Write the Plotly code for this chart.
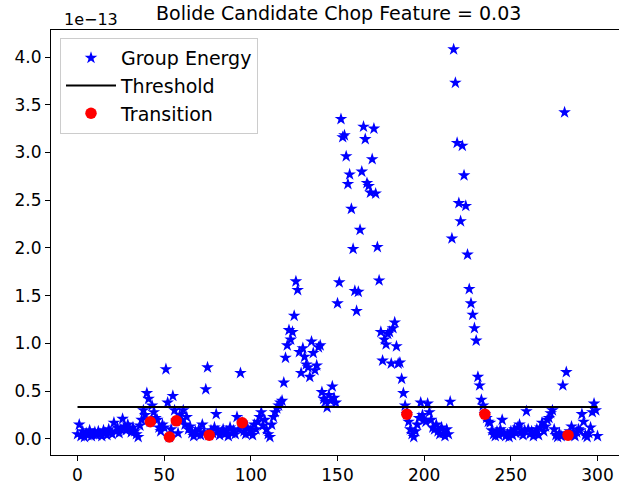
import plotly.graph_objects as go

# Group energy (units of 1e-13), sample index 0..300
energy_0_41 = [0.05, 0.15, 0.03, 0.08, 0.02, 0.06, 0.04, 0.09, 0.03, 0.05,
               0.07, 0.04, 0.08, 0.05, 0.03, 0.09, 0.06, 0.04, 0.10, 0.07,
               0.05, 0.17, 0.08, 0.12, 0.06, 0.10, 0.21, 0.13, 0.09, 0.15,
               0.11, 0.07, 0.12, 0.08, 0.05, 0.02, 0.14, 0.20, 0.30, 0.25,
               0.48, 0.42]
energy_42_65 = [0.18, 0.35, 0.28, 0.22, 0.20, 0.12, 0.08, 0.15, 0.12, 0.73,
                0.38, 0.02, 0.10, 0.45, 0.30, 0.19, 0.06, 0.25, 0.20, 0.30,
                0.15, 0.23, 0.10, 0.13]
energy_66_109 = [0.06, 0.03, 0.08, 0.05, 0.10, 0.04, 0.15, 0.07, 0.52, 0.75,
                 0.04, 0.09, 0.06, 0.12, 0.26, 0.08, 0.04, 0.07, 0.10, 0.05,
                 0.08, 0.03, 0.12, 0.06, 0.09, 0.05, 0.23, 0.10, 0.69, 0.17,
                 0.08, 0.05, 0.12, 0.06, 0.09, 0.04, 0.15, 0.10, 0.18, 0.23,
                 0.28, 0.14, 0.20, 0.10]
energy_110_149 = [0.05, 0.02, 0.15, 0.23, 0.28, 0.32, 0.35, 0.38, 0.40, 0.59,
                  0.85, 0.98, 1.14, 1.04, 1.12, 1.29, 1.65, 1.56, 0.91, 0.69,
                  0.95, 0.86, 0.78, 0.75, 0.65, 1.02, 0.90, 0.72, 0.77, 0.96,
                  0.98, 0.49, 0.42, 0.39, 0.33, 0.46, 0.40, 0.55, 0.43, 0.38]
energy_150_189 = [1.42, 1.64, 3.35, 3.16, 3.18, 2.96, 2.67, 2.77, 2.41, 1.99,
                  1.55, 1.34, 1.54, 2.19, 2.80, 3.27, 3.14, 2.68, 2.65, 2.58,
                  2.93, 3.25, 2.57, 2.01, 1.66, 1.12, 0.82, 1.04, 0.99, 1.10,
                  1.12, 0.79, 1.16, 1.22, 0.97, 0.79, 0.80, 0.63, 0.48, 0.35]
energy_190_215 = [0.26, 0.18, 0.10, 0.05, 0.02, 0.08, 0.15, 0.22, 0.38, 0.25,
                  0.20, 0.18, 0.37, 0.28, 0.20, 0.12, 0.10, 0.15, 0.08, 0.05,
                  0.12, 0.06, 0.03, 0.10, 0.05, 0.39]
energy_216_235 = [2.10, 4.08, 3.73, 3.10, 2.47, 2.28, 3.07, 2.76, 2.44, 1.93,
                  1.57, 1.42, 1.30, 1.16, 1.03, 0.65, 0.56, 0.41, 0.35, 0.26]
energy_236_300 = [0.22, 0.18, 0.17, 0.09, 0.05, 0.03, 0.08, 0.04, 0.10, 0.20,
                  0.06, 0.03, 0.05, 0.02, 0.08, 0.04, 0.10, 0.06, 0.12, 0.15,
                  0.07, 0.04, 0.09, 0.29, 0.10, 0.05, 0.08, 0.03, 0.06, 0.10,
                  0.04, 0.12, 0.17, 0.08, 0.13, 0.20, 0.22, 0.27, 0.30, 0.10,
                  0.04, 0.02, 0.06, 0.03, 0.56, 3.42, 0.70, 0.04, 0.08, 0.13,
                  0.05, 0.03, 0.07, 0.10, 0.09, 0.26, 0.18, 0.04, 0.02, 0.06,
                  0.12, 0.28, 0.37, 0.30, 0.03]

energy = (energy_0_41 + energy_42_65 + energy_66_109 + energy_110_149 +
          energy_150_189 + energy_190_215 + energy_216_235 + energy_236_300)
sample_index = list(range(len(energy)))

threshold_value = 0.335
threshold_x = [0, 300]

transition_x = [42, 53, 57, 76, 95, 190, 235, 283]
transition_y = [0.18, 0.02, 0.19, 0.04, 0.17, 0.26, 0.26, 0.04]

x_ticks = [0, 50, 100, 150, 200, 250, 300]
y_ticks = [0.0, 0.5, 1.0, 1.5, 2.0, 2.5, 3.0, 3.5, 4.0]

FONT = "DejaVu Sans"
W, H = 619, 488
L, R, T, B = 51, 619, 30, 455

fig = go.Figure()
fig.add_trace(go.Scatter(
    x=sample_index, y=energy, mode="markers", name="Group Energy",
    marker=dict(symbol="star", size=9.5, color="#0000ff", line=dict(width=0)),
))
fig.add_trace(go.Scatter(
    x=threshold_x, y=[threshold_value, threshold_value], mode="lines",
    name="Threshold", line=dict(color="black", width=2),
))
fig.add_trace(go.Scatter(
    x=transition_x, y=transition_y, mode="markers", name="Transition",
    marker=dict(symbol="circle", size=11.5, color="#ff0000", line=dict(width=0)),
))

def px_x(p):
    return (p - L) / (R - L)

def px_y(p):
    return (B - p) / (B - T)

fig.update_layout(
    width=W, height=H,
    margin=dict(l=L, r=W - R, t=T, b=H - B, pad=0),
    paper_bgcolor="white", plot_bgcolor="white",
    font=dict(family=FONT, size=17, color="black"),
    showlegend=True,
    legend=dict(
        x=px_x(60), y=px_y(38), xanchor="left", yanchor="top",
        bgcolor="rgba(255,255,255,0.8)", bordercolor="#cccccc", borderwidth=1,
        font=dict(family=FONT, size=19, color="black"),
        itemwidth=50, tracegroupgap=0,
    ),
    xaxis=dict(
        range=[-15.3, 312.4], tickmode="array", tickvals=x_ticks,
        ticktext=[str(v) for v in x_ticks],
        showgrid=False, zeroline=False, showline=True, linecolor="black",
        linewidth=1, mirror=True, ticks="outside", ticklen=5, tickcolor="black",
        tickfont=dict(family=FONT, size=17, color="black"),
    ),
    yaxis=dict(
        range=[-0.168, 4.283], tickmode="array", tickvals=y_ticks,
        ticktext=[f"{v:.1f}" for v in y_ticks],
        showgrid=False, zeroline=False, showline=True, linecolor="black",
        linewidth=1, mirror=False, ticks="outside", ticklen=5, tickcolor="black",
        tickfont=dict(family=FONT, size=17, color="black"),
    ),
    annotations=[
        dict(text="Bolide Candidate Chop Feature = 0.03", xref="paper", yref="paper",
             x=px_x(338), y=px_y(13), xanchor="center", yanchor="middle",
             showarrow=False, font=dict(family=FONT, size=19, color="black")),
        dict(text="1e\u221213", xref="paper", yref="paper",
             x=px_x(62), y=px_y(19), xanchor="left", yanchor="middle",
             showarrow=False, font=dict(family=FONT, size=16, color="black")),
    ],
)

fig.write_html("out.html")
